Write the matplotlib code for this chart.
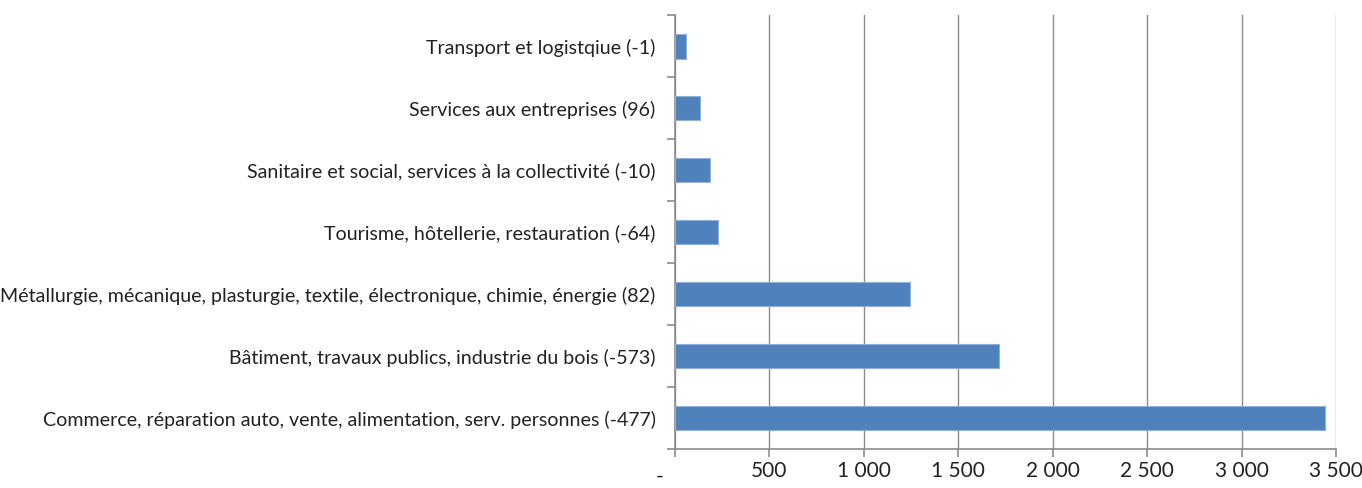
"""Effectifs par secteur - barres horizontales."""

import numpy as np
import matplotlib
matplotlib.use("Agg")
import matplotlib.pyplot as plt
from matplotlib.ticker import FixedLocator
import matplotlib.transforms as mtransforms

categories = [
    "Commerce, réparation auto, vente, alimentation, serv. personnes (-477)",
    "Bâtiment, travaux publics, industrie du bois (-573)",
    "Métallurgie, mécanique, plasturgie, textile, électronique, chimie, énergie (82)",
    "Tourisme, hôtellerie, restauration (-64)",
    "Sanitaire et social, services à la collectivité (-10)",
    "Services aux entreprises (96)",
    "Transport et logistqiue (-1)",
]
values = [3443, 1715, 1243, 229, 187, 131, 58]
x_ticks = [0, 500, 1000, 1500, 2000, 2500, 3000, 3500]
x_tick_labels = ["-", "500", "1 000", "1 500", "2 000", "2 500", "3 000", "3 500"]

plt.rcParams["font.family"] = ["Lato", "DejaVu Sans"]

fig = plt.figure(figsize=(13.62, 4.88), dpi=100)
ax = fig.add_axes([0.4956, 0.080, 0.4854, 0.889])

axis_gray = "#8c8c8c"
y = np.arange(len(categories))
ax.barh(y, values, height=0.4, color="#4F81BD", edgecolor="#8fb0d8",
        linewidth=0.8, zorder=3)

ax.set_xlim(0, 3500)
ax.set_ylim(-0.5, len(categories) - 0.5)

ax.set_xticks(x_ticks)
ax.set_xticklabels(x_tick_labels, fontsize=15, color="#222222")
ax.grid(axis="x", color=axis_gray, linewidth=1.0, zorder=0)

ax.set_yticks(y)
ax.set_yticklabels(categories, fontsize=14.1, color="#222222")
ax.yaxis.set_minor_locator(FixedLocator(np.arange(-0.5, len(categories), 1.0)))
ax.tick_params(axis="y", which="major", length=0, pad=14)
ax.tick_params(axis="y", which="minor", length=6, color=axis_gray, width=1.2)
ax.tick_params(axis="x", length=6, color=axis_gray, width=1.2, pad=3)

# le "-" du zéro est décalé vers la gauche (format comptable Excel)
zero_lbl = ax.get_xticklabels()[0]
zero_lbl.set_transform(zero_lbl.get_transform() +
                       mtransforms.ScaledTranslation(-0.15, -0.05, fig.dpi_scale_trans))

for side in ["top", "right"]:
    ax.spines[side].set_visible(False)
for side in ["left", "bottom"]:
    ax.spines[side].set_color(axis_gray)
    ax.spines[side].set_linewidth(1.2)

fig.savefig("out.png", dpi=100)
